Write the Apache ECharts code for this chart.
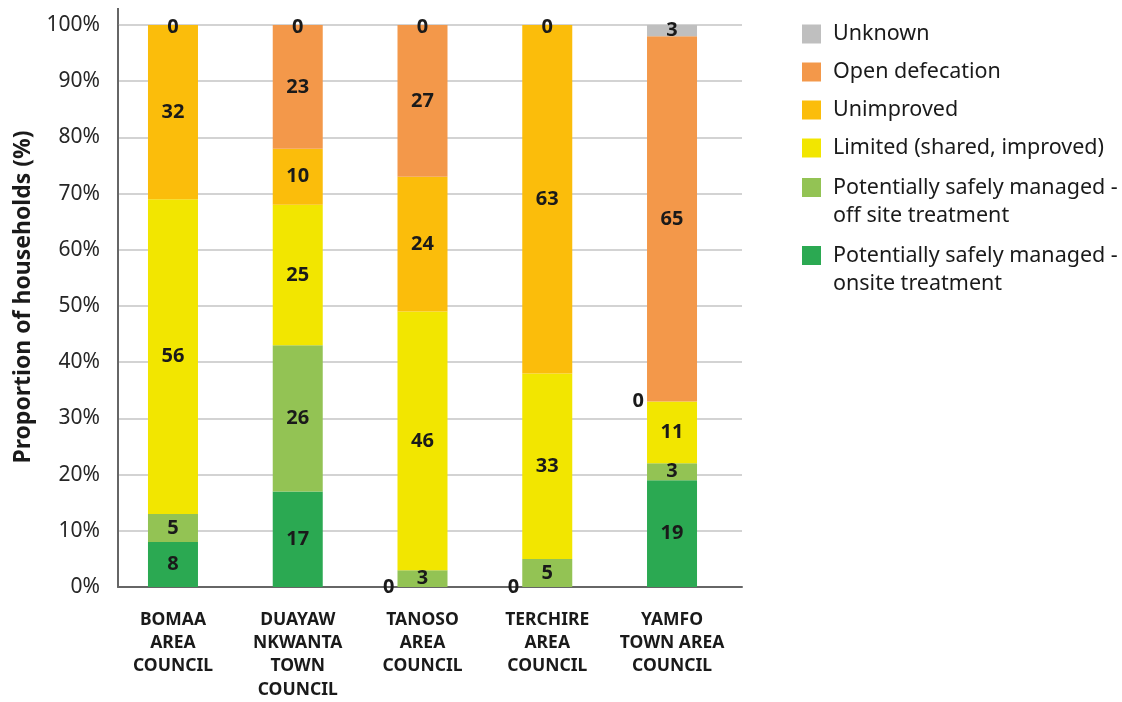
<!DOCTYPE html>
<html>
<head>
<meta charset="utf-8">
<script src="https://cdn.jsdelivr.net/npm/echarts@6/dist/echarts.min.js"></script>
<style>
  html, body { margin: 0; padding: 0; background: #ffffff; }
  #chart { width: 1122px; height: 702px; }
</style>
</head>
<body>
<div id="chart"></div>
<script>
// Sanitation service levels by council area (% of households)
const categories = [
  'BOMAA\nAREA\nCOUNCIL',
  'DUAYAW\nNKWANTA\nTOWN\nCOUNCIL',
  'TANOSO\nAREA\nCOUNCIL',
  'TERCHIRE\nAREA\nCOUNCIL',
  'YAMFO\nTOWN AREA\nCOUNCIL'
];
const onsiteTreatment  = [8, 17, 0, 0, 19];
const offsiteTreatment = [5, 26, 3, 5, 3];
const limitedShared    = [56, 25, 46, 33, 11];
const unimproved       = [32, 10, 24, 63, 0];
const openDefecation   = [0, 23, 27, 0, 65];
const unknown          = [0, 0, 0, 0, 3];
const yTicks = [0, 10, 20, 30, 40, 50, 60, 70, 80, 90, 100];

const FONT = 'Noto Sans';
const INK = '#1a1a1a';
const AXIS_GREY = '#666666';

// stacked bottom to top
const stackOrder = [
  { name: 'Potentially safely managed - onsite treatment', values: onsiteTreatment, color: '#2ba952' },
  { name: 'Potentially safely managed - off site treatment', values: offsiteTreatment, color: '#93c354' },
  { name: 'Limited (shared, improved)', values: limitedShared, color: '#f2e600' },
  { name: 'Unimproved', values: unimproved, color: '#fbbd0b' },
  { name: 'Open defecation', values: openDefecation, color: '#f3984a' },
  { name: 'Unknown', values: unknown, color: '#bfbfbf' }
];
const yMin = yTicks[0];
const yMax = yTicks[yTicks.length - 1];

function sumAbove(si, ci) {
  let s = 0;
  for (let k = si + 1; k < stackOrder.length; k++) s += stackOrder[k].values[ci];
  return s;
}

// zero segments inside a bar get their label beside the bar;
// zero segments on top of a bar are labelled once, at the top edge
function buildData(si) {
  return stackOrder[si].values.map(function (v, ci) {
    if (v !== 0) return v;
    if (sumAbove(si, ci) === 0) return { value: v, label: { show: false } };
    return { value: v, label: { position: 'left', distance: 3 } };
  });
}

const topZeroMarks = categories.map(function (c, ci) {
  const top = stackOrder[stackOrder.length - 1].values[ci];
  return top === 0 ? { coord: [ci, yMax], value: top } : null;
}).filter(Boolean);

const barLabel = {
  show: true,
  position: 'inside',
  fontFamily: FONT,
  fontWeight: 'bold',
  fontSize: 20,
  color: INK
};

const series = stackOrder.map(function (s, si) {
  const item = {
    name: s.name,
    type: 'bar',
    stack: 'total',
    xAxisIndex: 1,
    yAxisIndex: 1,
    barWidth: 50,
    itemStyle: { color: s.color },
    label: barLabel,
    data: buildData(si)
  };
  if (si === stackOrder.length - 1) {
    item.markPoint = {
      symbol: 'circle',
      symbolSize: 1,
      itemStyle: { color: 'rgba(0,0,0,0)' },
      label: Object.assign({}, barLabel, { offset: [0, 2], formatter: '{c}' }),
      data: topZeroMarks
    };
  }
  return item;
});

const legendFont = { fontFamily: FONT, fontSize: 21.5, color: INK };

function twoLineLegend(name, top) {
  return {
    orient: 'vertical',
    left: 802, top: top, padding: 0,
    itemWidth: 19, itemHeight: 19,
    icon: 'rect',
    selectedMode: false,
    data: [name],
    formatter: function (n) {
      const parts = n.split(' - ');
      return '{a|' + parts[0] + ' -}\n{b|' + parts[1] + '}';
    },
    textStyle: Object.assign({
      padding: [0, 0, 0, 7],
      rich: {
        a: Object.assign({ lineHeight: 57 }, legendFont),
        b: Object.assign({ lineHeight: 0 }, legendFont)
      }
    }, legendFont)
  };
}

const chart = echarts.init(document.getElementById('chart'));
chart.setOption({
  animation: false,
  backgroundColor: '#ffffff',
  grid: [
    // frame: value axis, gridlines, baseline
    { left: 118, right: 380, top: 25, bottom: 115, containLabel: false, outerBoundsMode: 'none' },
    // bars and category labels
    { left: 110.6, right: 387.6, top: 25, bottom: 115, containLabel: false, outerBoundsMode: 'none' }
  ],
  xAxis: [
    {
      type: 'category',
      gridIndex: 0,
      data: categories,
      axisLine: { lineStyle: { color: AXIS_GREY, width: 2 } },
      axisTick: { show: false },
      axisLabel: { show: false }
    },
    {
      type: 'category',
      gridIndex: 1,
      data: categories,
      axisLine: { show: false },
      axisTick: { show: false },
      axisLabel: {
        interval: 0,
        margin: 21,
        fontFamily: FONT,
        fontWeight: 'bold',
        fontSize: 17.5,
        lineHeight: 23.3,
        color: INK
      }
    }
  ],
  yAxis: [
    {
      type: 'value',
      gridIndex: 0,
      min: yMin,
      max: yMax,
      interval: 10,
      name: 'Proportion of households (%)',
      nameLocation: 'middle',
      nameGap: 83,
      nameTextStyle: {
        fontFamily: FONT,
        fontWeight: 'bold',
        fontSize: 23,
        color: INK,
        padding: [0, 0, 0, 18]
      },
      axisLine: { show: true, lineStyle: { color: AXIS_GREY, width: 2 } },
      axisTick: { show: false },
      splitLine: { lineStyle: { color: '#c4c4c4', width: 1.5 } },
      axisLabel: {
        margin: 18,
        fontFamily: FONT,
        fontSize: 21,
        color: '#262626',
        formatter: '{value}%'
      }
    },
    {
      type: 'value',
      gridIndex: 1,
      min: yMin,
      max: yMax,
      show: false
    }
  ],
  legend: [
    {
      orient: 'vertical',
      left: 802, top: 23, padding: 0,
      itemWidth: 19, itemHeight: 19, itemGap: 16,
      icon: 'rect',
      selectedMode: false,
      data: ['Unknown', 'Open defecation', 'Unimproved', 'Limited (shared, improved)'],
      textStyle: Object.assign({ padding: [0, 0, 0, 7] }, legendFont)
    },
    twoLineLegend('Potentially safely managed - off site treatment', 176.5),
    twoLineLegend('Potentially safely managed - onsite treatment', 244.5)
  ],
  graphic: [
    {
      type: 'line',
      shape: { x1: 118, y1: 8, x2: 118, y2: 26 },
      style: { stroke: AXIS_GREY, lineWidth: 2 }
    }
  ],
  series: series
});
</script>
</body>
</html>
